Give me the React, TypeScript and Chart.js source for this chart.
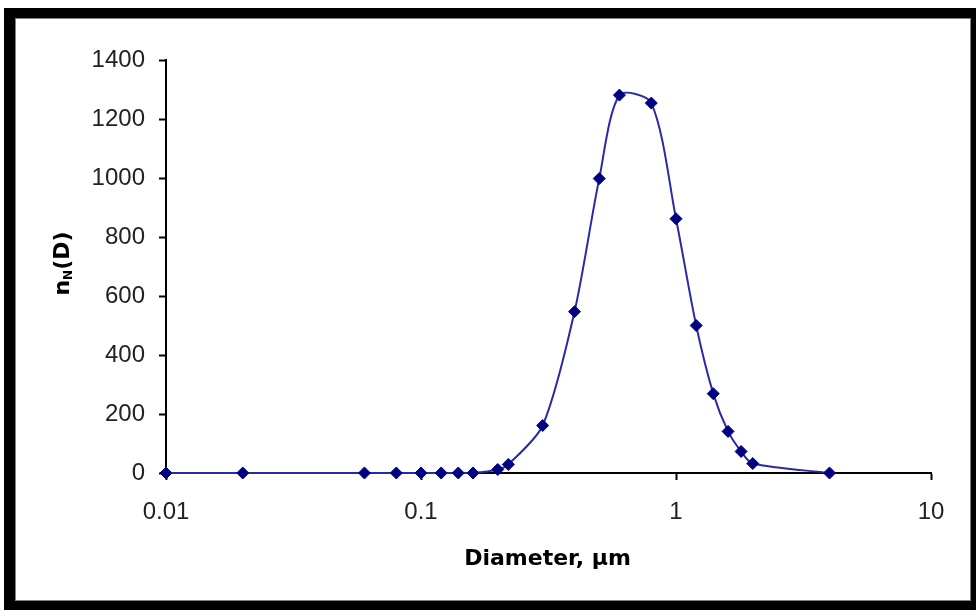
import React, { useEffect, useRef } from 'react';
import { Chart, registerables } from 'chart.js';

Chart.register(...registerables);

// Particle diameter (µm) and number distribution nN(D)
const diameters = [0.01, 0.02, 0.06, 0.08, 0.1, 0.12, 0.14, 0.16, 0.2, 0.22, 0.3, 0.4, 0.5, 0.6, 0.8, 1.0, 1.2, 1.4, 1.6, 1.8, 2.0, 4.0];
const counts = [0, 0, 0, 0, 0, 0, 0, 0, 12, 29, 161, 547, 998, 1281, 1254, 862, 500, 269, 141, 73, 32, 0];

const xTickValues = [0.01, 0.1, 1, 10];
const xTickLabels = ['0.01', '0.1', '1', '10'];
const yMin = 0;
const yMax = 1400;
const yStep = 200;

const xTitle = 'Diameter, µm';
const yTitleMain = 'n';
const yTitleSub = 'N';
const yTitleRest = '(D)';

const tickFont = { family: "'Liberation Sans', Arial, sans-serif", size: 24 };
const titleFamily = "'DejaVu Sans', Verdana, sans-serif";

const titlesPlugin = {
  id: 'customTitles',
  afterDraw(chart: any) {
    const ctx = chart.ctx as CanvasRenderingContext2D;
    const { left, right, top, bottom } = chart.chartArea;
    ctx.save();
    ctx.fillStyle = '#000';
    // X title
    ctx.font = `bold 22px ${titleFamily}`;
    ctx.textAlign = 'center';
    ctx.textBaseline = 'alphabetic';
    ctx.fillText(xTitle, (left + right) / 2 - 1, bottom + 92);
    // Y title (rotated, with subscript)
    const mainFont = `bold 22px ${titleFamily}`;
    const subFont = `bold 12px ${titleFamily}`;
    ctx.font = mainFont;
    const wMain = ctx.measureText(yTitleMain).width;
    const wRest = ctx.measureText(yTitleRest).width;
    ctx.font = subFont;
    const wSub = ctx.measureText(yTitleSub).width;
    const total = wMain + wSub + wRest;
    const cy = (top + bottom) / 2 - 3;
    ctx.translate(53, cy);
    ctx.rotate(-Math.PI / 2);
    ctx.textAlign = 'left';
    let x = -total / 2;
    ctx.font = mainFont;
    ctx.fillText(yTitleMain, x, 0);
    x += wMain;
    ctx.font = subFont;
    ctx.fillText(yTitleSub, x, 3);
    x += wSub;
    ctx.font = mainFont;
    ctx.fillText(yTitleRest, x, 0);
    ctx.restore();
  },
};

export default function App() {
  const canvasRef = useRef<HTMLCanvasElement | null>(null);

  useEffect(() => {
    if (!canvasRef.current) return;
    const chart = new Chart(canvasRef.current, {
      type: 'line',
      data: {
        datasets: [
          {
            data: diameters.map((d, i) => ({ x: d, y: counts[i] })),
            borderColor: '#2a2aa8',
            borderWidth: 2,
            pointStyle: 'rectRot',
            pointRadius: 6,
            pointBackgroundColor: '#000080',
            pointBorderColor: '#000080',
            pointBorderWidth: 1,
            tension: 0.28,
            clip: false,
            fill: false,
          } as any,
        ],
      },
      options: {
        responsive: false,
        animation: false,
        devicePixelRatio: 1,
        layout: { padding: { top: 41, right: 39, bottom: 0, left: 0 } },
        plugins: {
          legend: { display: false },
          tooltip: { enabled: false },
        },
        scales: {
          x: {
            type: 'logarithmic',
            min: xTickValues[0],
            max: xTickValues[xTickValues.length - 1],
            afterBuildTicks: (s: any) => {
              s.ticks = xTickValues.map((v) => ({ value: v }));
            },
            afterFit: (s: any) => {
              s.height = 127;
            },
            ticks: {
              autoSkip: false,
              maxRotation: 0,
              font: tickFont,
              color: '#222',
              padding: 18,
              callback: (v: any) => {
                const i = xTickValues.indexOf(Number(v));
                return i >= 0 ? xTickLabels[i] : '';
              },
            },
            grid: {
              drawOnChartArea: false,
              drawTicks: true,
              tickLength: 7,
              tickColor: '#000',
              tickWidth: 2,
            },
            border: { display: true, color: '#000', width: 2 },
          },
          y: {
            type: 'linear',
            min: yMin,
            max: yMax,
            afterFit: (s: any) => {
              s.width = 150;
            },
            ticks: {
              stepSize: yStep,
              font: tickFont,
              color: '#222',
              padding: 14,
              callback: (v: any) => String(v),
            },
            grid: {
              drawOnChartArea: false,
              drawTicks: true,
              tickLength: 7,
              tickColor: '#000',
              tickWidth: 2,
            },
            border: { display: true, color: '#000', width: 2 },
          },
        },
      } as any,
      plugins: [titlesPlugin],
    });
    return () => chart.destroy();
  }, []);

  return (
    <div
      style={{
        position: 'fixed',
        left: 4,
        top: 8,
        width: 972,
        height: 602,
        boxSizing: 'border-box',
        borderStyle: 'solid',
        borderColor: '#000',
        borderWidth: '10px 5px 9px 11px',
        background: '#fff',
      }}
    >
      <div
        style={{
          width: '100%',
          height: '100%',
          boxSizing: 'border-box',
          border: '1px solid #808080',
        }}
      >
        <canvas ref={canvasRef} width={954} height={581} style={{ display: 'block' }} />
      </div>
    </div>
  );
}
